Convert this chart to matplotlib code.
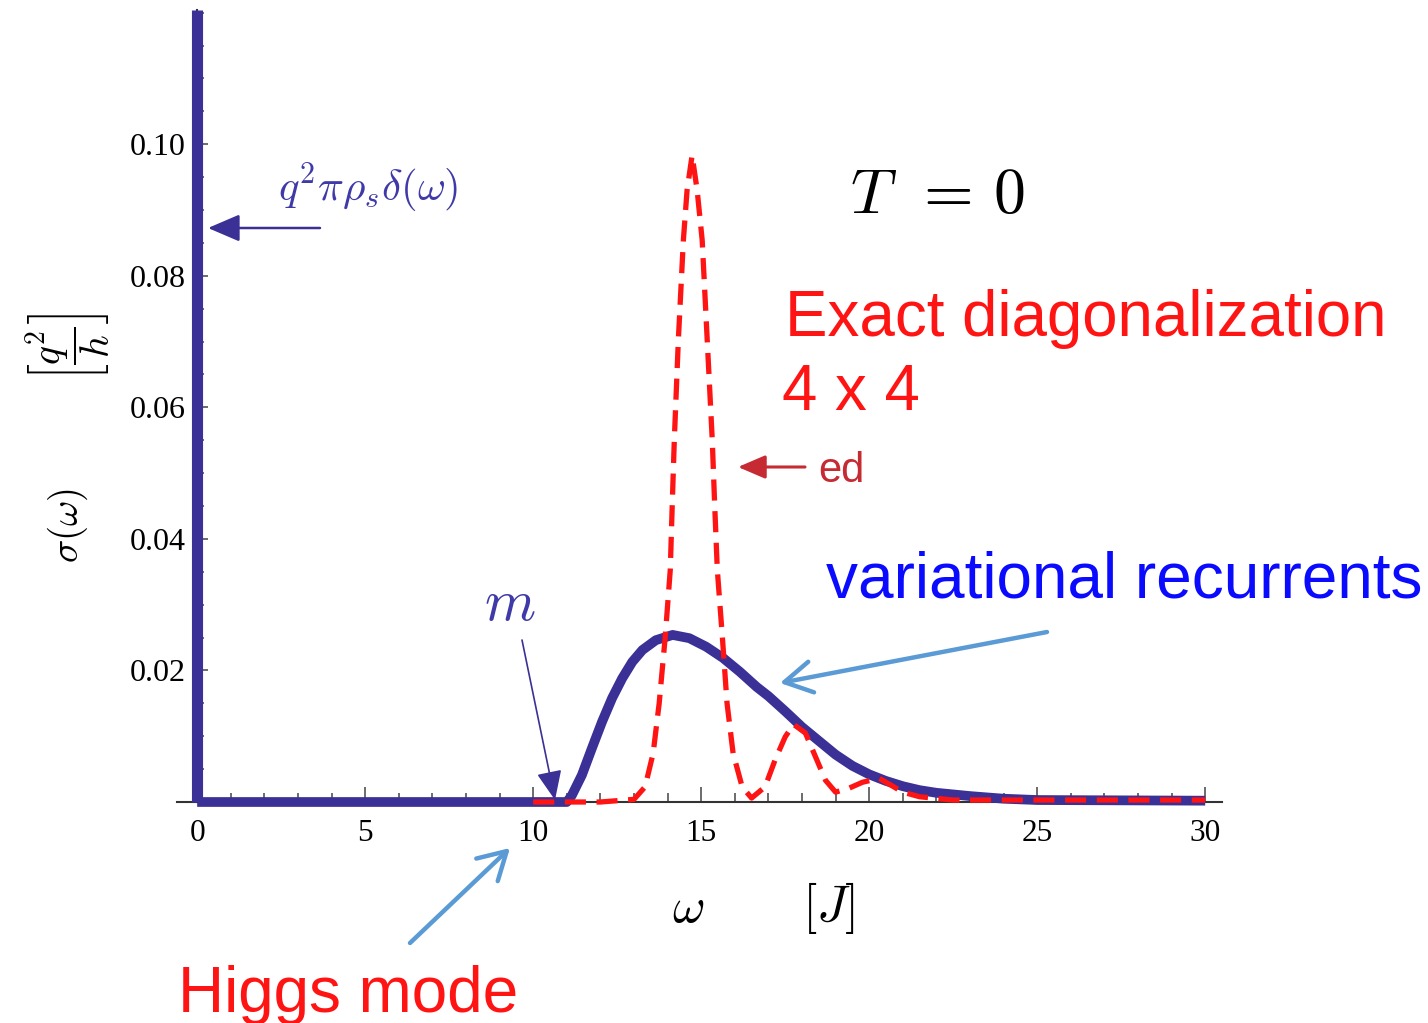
import numpy as np
import matplotlib
matplotlib.use('Agg')
import matplotlib.pyplot as plt
from matplotlib.ticker import MultipleLocator, FixedLocator, FormatStrFormatter

plt.rcParams['mathtext.fontset'] = 'cm'
plt.rcParams['font.family'] = 'Liberation Serif'

# variational recurrents (blue solid curve)
omega_var = [0, 11.0, 11.15, 11.45, 11.75, 12.05, 12.35, 12.65, 12.95, 13.25, 13.65, 14.15,
             14.65, 15.15, 15.65, 16.15, 16.65, 17.0, 17.5, 18.0, 18.5, 19.0, 19.5, 20.0,
             20.5, 21.0, 21.5, 22.0, 23.0, 24.0, 25.0, 30.0]
sigma_var = [0, 0, 0.001, 0.0041, 0.0082, 0.0122, 0.0158, 0.0188, 0.0213, 0.0231, 0.0246, 0.0254,
             0.0249, 0.0236, 0.0219, 0.0198, 0.0175, 0.0161, 0.0138, 0.0114, 0.0093, 0.0072, 0.0055, 0.0042,
             0.0032, 0.0024, 0.0018, 0.0014, 0.0009, 0.0005, 0.0003, 0.0002]

# exact diagonalization 4x4 (red dashed curve)
omega_ed = [10, 11, 12, 13.0, 13.33, 13.57, 13.75, 13.93, 14.08, 14.14, 14.2, 14.32, 14.47,
            14.58, 14.73, 14.88, 15.03, 15.18, 15.33, 15.4, 15.48, 15.63, 15.77, 15.95,
            16.22, 16.5, 16.9, 17.2, 17.5, 17.75, 18.1, 18.4, 18.7, 19.0, 19.4, 19.8,
            20.3, 21.0, 21.5, 22.5, 30]
sigma_ed = [0, 0, 0, 0.0004, 0.0023, 0.0074, 0.015, 0.0251, 0.0353, 0.0454, 0.055, 0.0702, 0.0854,
            0.093, 0.0983, 0.093, 0.0854, 0.0702, 0.055, 0.0454, 0.0353, 0.0251, 0.015, 0.0074,
            0.0023, 0.0006, 0.0023, 0.0064, 0.0099, 0.0118, 0.0105, 0.0069, 0.0033, 0.0015, 0.0021, 0.0030,
            0.0036, 0.0015, 0.0008, 0.0003, 0.0003]

delta_height = 0.1204

yticks = [0.02, 0.04, 0.06, 0.08, 0.10]
xticks = [0, 5, 10, 15, 20, 25, 30]

dblue = '#3a3096'
red = '#ff1414'
lblue = '#5b9bd5'

W, H = 1428, 1023


def px(x, y):
    # picture pixel -> figure fraction
    return (x / W, 1 - y / H)


fig = plt.figure(figsize=(14.28, 10.23), dpi=100)
ax = fig.add_axes([177 / W, 1 - 802 / H, (1222 - 177) / W, (802 - 10) / H])
ax.set_xlim(-0.6, 30.5)
ax.set_ylim(0, delta_height)

ax.spines['top'].set_visible(False)
ax.spines['right'].set_visible(False)
ax.spines['left'].set_position(('data', 0))
for s in ['left', 'bottom']:
    ax.spines[s].set_color('#333333')
    ax.spines[s].set_linewidth(1.5)

ax.xaxis.set_major_locator(FixedLocator(xticks))
ax.xaxis.set_minor_locator(MultipleLocator(1))
ax.yaxis.set_major_locator(FixedLocator(yticks))
ax.yaxis.set_minor_locator(MultipleLocator(0.005))
ax.yaxis.set_major_formatter(FormatStrFormatter('%.2f'))
ax.tick_params(axis='x', which='major', direction='in', length=11, width=1.1, color='#444444',
               labelsize=22.5, pad=12)
ax.tick_params(axis='x', which='minor', direction='in', length=6.5, width=1.1, color='#444444')
ax.tick_params(axis='y', which='major', direction='in', length=8, width=1.1, color='#444444',
               labelsize=23, pad=8)
ax.tick_params(axis='y', which='minor', direction='in', length=5, width=1.1, color='#444444')

# delta peak at omega = 0
ax.plot([0, 0], [0, delta_height], color=dblue, lw=8, solid_capstyle='butt', clip_on=False, zorder=3)
ax.plot(omega_var, sigma_var, color=dblue, lw=7, solid_capstyle='butt', solid_joinstyle='round',
        clip_on=False, zorder=3)
ax.plot(omega_ed, sigma_ed, color=red, lw=3.8, linestyle=(0, (4, 2)), dash_joinstyle='round',
        clip_on=False, zorder=4)

# labels
fig.text(*px(688, 910), r'$\omega$', fontsize=36, ha='center', va='center')
fig.text(*px(828, 908), r'$[J]$', fontsize=37, ha='center', va='center')
fig.text(*px(68, 526), r'$\sigma(\omega)$', fontsize=28, rotation=90, ha='center', va='center')
fig.text(*px(68, 347), r'$\left[\dfrac{q^2}{h}\right]$', fontsize=28.5, rotation=90, ha='center', va='center')

fig.text(*px(368, 188), r'$q^2\pi\rho_s\delta(\omega)$', fontsize=31, color='#3f3aa8', ha='center', va='center')
fig.text(*px(850, 198), r'$T\;\,=\,0$', fontsize=46, color='black', ha='left', va='center')
fig.text(*px(785, 336), 'Exact diagonalization', fontsize=45.8, color=red, family='Liberation Sans',
         ha='left', va='baseline')
fig.text(*px(782, 410), '4 x 4', fontsize=45.8, color=red, family='Liberation Sans', ha='left', va='baseline')
fig.text(*px(818, 482), 'ed', fontsize=30, color='#c62a32', family='Liberation Sans', ha='left', va='baseline')
fig.text(*px(826, 598), 'variational recurrents', fontsize=46, color='#0a0aff', family='Liberation Sans',
         ha='left', va='baseline')
fig.text(*px(510, 606), r'$m$', fontsize=42, color='#3f3aa8', ha='center', va='center')
fig.text(*px(178, 1012), 'Higgs mode', fontsize=46, color=red, family='Liberation Sans', ha='left', va='baseline')

# arrows
ax.annotate('', xy=px(208, 228), xytext=px(320, 228), xycoords='figure fraction',
            arrowprops=dict(arrowstyle='-|>,head_length=0.7,head_width=0.3', color=dblue, lw=1.8,
                            mutation_scale=28, shrinkA=0, shrinkB=0))
ax.annotate('', xy=px(555, 800), xytext=px(522, 640), xycoords='figure fraction',
            arrowprops=dict(arrowstyle='-|>,head_length=0.7,head_width=0.3', color=dblue, lw=1.2,
                            mutation_scale=26, shrinkA=0, shrinkB=0))
ax.annotate('', xy=px(738, 467), xytext=px(805, 467), xycoords='figure fraction',
            arrowprops=dict(arrowstyle='-|>,head_length=0.7,head_width=0.3', color='#c62a32', lw=2.2,
                            mutation_scale=24, shrinkA=0, shrinkB=0))
ax.annotate('', xy=px(780, 683), xytext=px(1047, 632), xycoords='figure fraction',
            arrowprops=dict(arrowstyle='->,head_length=0.7,head_width=0.4', color=lblue, lw=3.2,
                            mutation_scale=28, shrinkA=0, shrinkB=0))
ax.annotate('', xy=px(510, 848), xytext=px(410, 943), xycoords='figure fraction',
            arrowprops=dict(arrowstyle='->,head_length=0.7,head_width=0.4', color=lblue, lw=3.2,
                            mutation_scale=28, shrinkA=0, shrinkB=0))

fig.savefig('out.png', dpi=100)
